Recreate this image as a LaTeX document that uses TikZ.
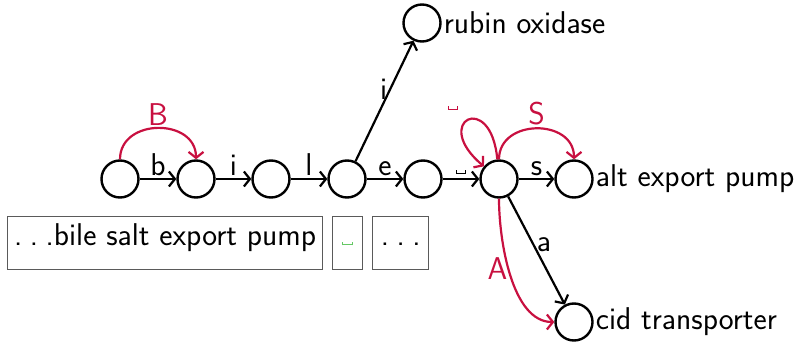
\documentclass[tikz,border=0pt]{standalone}
\usepackage{fontspec}
\usetikzlibrary{arrows.meta}
\definecolor{hl}{RGB}{200,16,64}
\definecolor{spc}{RGB}{100,200,100}
\definecolor{boxline}{RGB}{90,90,90}
% a flat visible-space mark
\newcommand\spmark{\leavevmode\hbox{\vrule height 3.5pt width 1pt\vrule height 1pt width 8.5pt\vrule height 3.5pt width 1pt}}
% spaced ellipsis
\newcommand\dotrun{.\kern.24em.\kern.24em.}
\begin{document}
\begin{tikzpicture}[x=1pt,y=1pt,
  font=\sffamily\fontsize{31.5}{37}\selectfont,
  state/.style={circle,draw,line width=2.4pt,minimum size=37pt,inner sep=0pt},
  trans/.style={line width=2.2pt,-{Straight Barb[length=6pt,width=15pt]}},
  hltrans/.style={trans,draw=hl},
  lbl/.style={inner sep=2pt},
  cell/.style={draw=boxline,line width=1.3pt,minimum height=53pt,inner sep=0pt,
    text height=0.72em,text depth=0.22em,anchor=west}]
\useasboundingbox (0,0) rectangle (800,-347);

% states of the automaton
\node[state] (q0) at (120,-179) {};
\node[state] (q1) at (196,-179) {};
\node[state] (q2) at (271,-179) {};
\node[state] (q3) at (347,-179) {};
\node[state] (q4) at (423,-179) {};
\node[state] (q5) at (499,-179) {};
\node[state,label={[inner sep=2pt]right:alt export pump}] (q6) at (574,-179) {};
\node[state,label={[inner sep=2pt]right:rubin oxidase}] (q7) at (422,-23) {};
\node[state,label={[inner sep=2pt]right:cid transporter}] (q8) at (574,-322) {};

% regular transitions
\draw[trans] (q0) -- node[lbl,above] {b} (q1);
\draw[trans] (q1) -- node[lbl,above] {i} (q2);
\draw[trans] (q2) -- node[lbl,above] {l} (q3);
\draw[trans] (q3) -- node[lbl,above] {e} (q4);
\draw[trans] (q4) -- node[lbl,above,inner sep=4pt] {\spmark} (q5);
\draw[trans] (q5) -- node[lbl,above] {s} (q6);
\draw[trans] (q3) -- node[lbl,left,pos=0.6] {i} (q7);
\draw[trans] (q5) -- node[lbl,right,pos=0.45] {a} (q8);

% highlighted transitions
\draw[hltrans] (q0) to[out=90,in=90,looseness=1.4] node[lbl,above,text=hl] {B} (q1);
\draw[hltrans] (q5) to[out=90,in=90,looseness=1.4] node[lbl,above,text=hl] {S} (q6);
\draw[hltrans] (q5) to[out=270,in=180,looseness=0.8] node[left,pos=0.45,inner sep=0pt,text=hl] {A} (q8);
\draw[hltrans] (q5) to[out=95,in=140,min distance=70pt] node[above left,pos=0.5,inner sep=9pt,color=hl] {\spmark} (q5);

% input cells
\node[cell,minimum width=315pt] (c0) at (7,-243) {\dotrun bile salt export pump};
\node[cell,minimum width=30pt,color=spc,draw=boxline] (c1) at (332,-243) {\spmark};
\node[cell,minimum width=56pt] (c2) at (372,-243) {\dotrun};
\end{tikzpicture}
\end{document}
